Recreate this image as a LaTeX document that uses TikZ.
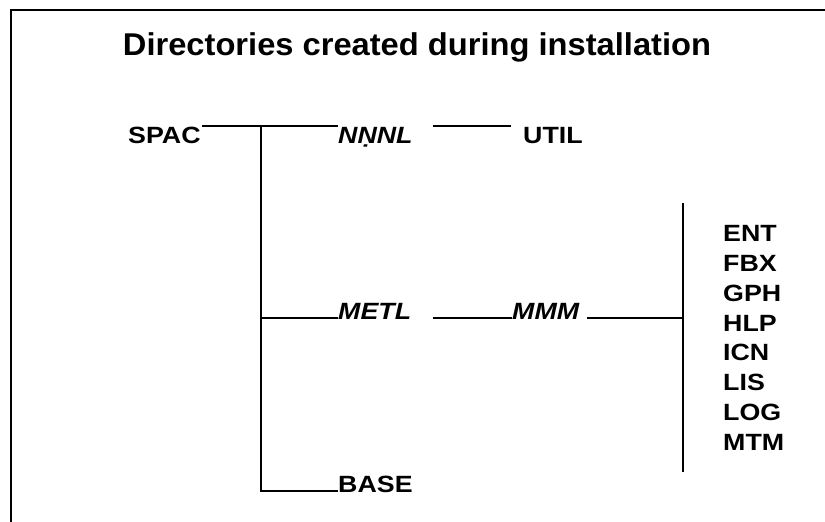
\documentclass[tikz,border=0pt]{standalone}
\usepackage{fontspec}
\setmainfont{Liberation Sans}[FakeStretch=1.14]
\newfontfamily\titlefont{Liberation Sans}[FakeStretch=1.037]
\begin{document}
\begin{tikzpicture}[x=1pt,y=-1pt,
  lbl/.style={anchor=base west,inner sep=0pt,font=\fontsize{23.5}{26}\selectfont\bfseries},
  ilbl/.style={lbl,font=\fontsize{23.5}{26}\selectfont\bfseries\itshape},
  conn/.style={line width=2pt},
  frame/.style={line width=2.5pt}]
\useasboundingbox (0,0) rectangle (825,522);
\draw[frame] (11,522) -- (11,10) -- (825,10);
\node[anchor=base,inner sep=0pt,font=\titlefont\fontsize{31.5}{34}\selectfont\bfseries] (title) at (417,55) {Directories created during installation};
\node[lbl] (spac) at (128,143) {SPAC};
\node[ilbl] (nnnl) at (338,143) {NṆNL};
\node[lbl] (util) at (523,143) {UTIL};
\node[ilbl] (metl) at (338,319) {METL};
\node[ilbl] (mmm) at (512,319) {MMM};
\node[lbl] (base) at (338,492) {BASE};
\coordinate (jtop) at (261,126);
\coordinate (jmid) at (261,318);
\coordinate (jbot) at (261,491);
\coordinate (n2) at (433,126);
\coordinate (u1) at (511,126);
\coordinate (m1) at (433,318);
\coordinate (m2) at (587,318);
\coordinate (rtop) at (683,203);
\coordinate (rmid) at (683,318);
\coordinate (rbot) at (683,472);
\foreach \n/\t/\y in {ent/ENT/241,fbx/FBX/271,gph/GPH/301,hlp/HLP/331,icn/ICN/360,lis/LIS/390,log/LOG/420,mtm/MTM/450}
  \node[lbl] (\n) at (723,\y) {\t};
\draw[conn] (202,126) -- (nnnl.west |- jtop);
\draw[conn] (n2) -- (u1);
\draw[conn] (jtop) -- (jbot) -- (base.west |- jbot);
\draw[conn] (jmid) -- (metl.west |- jmid);
\draw[conn] (m1) -- (mmm.west |- jmid);
\draw[conn] (m2) -- (rmid);
\draw[conn] (rtop) -- (rbot);
\end{tikzpicture}
\end{document}
